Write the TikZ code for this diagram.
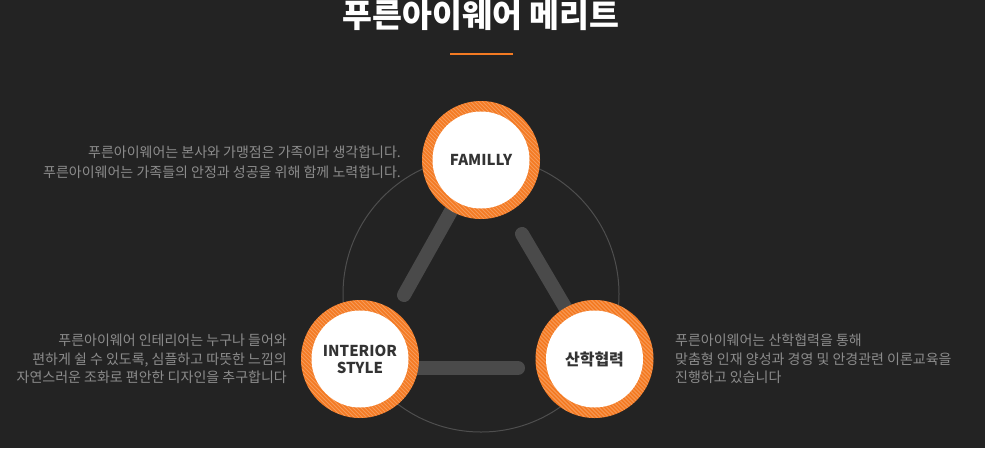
\documentclass[tikz,border=0pt]{standalone}
\usepackage{fontspec}
\setmainfont{Noto Sans CJK KR}
\usetikzlibrary{calc}
\definecolor{bgc}{HTML}{232323}
\definecolor{orng}{HTML}{F47A22}
\definecolor{barc}{HTML}{4A4A4A}
\definecolor{ringline}{HTML}{4E4E4E}
\definecolor{descc}{HTML}{8C8C8C}
\definecolor{lblc}{HTML}{333333}
\tikzset{
  titletext/.style={text=white,font=\fontsize{32.5}{36}\selectfont\bfseries,inner sep=0pt},
  accent/.style={draw=orng,line width=2pt},
  bigring/.style={draw=ringline,line width=1pt},
  barline/.style={draw=barc,line width=14pt,line cap=round},
  stripe/.style={draw=white,draw opacity=0.25,line width=0.8pt},
  innerdisc/.style={circle,fill=white,minimum size=97pt,inner sep=0pt,text=lblc,align=center},
  lbl/.style={font=\fontsize{15}{17}\selectfont\bfseries},
  desc/.style={text=descc,inner sep=0pt},
  desctwo/.style={desc,font=\fontsize{14}{20}\selectfont},
  descthree/.style={desc,font=\fontsize{14}{18.5}\selectfont},
}
\newcommand\mkring[1]{%
  \fill[orng] (#1) circle (59pt);
  \begin{scope}
    \clip (#1) circle (59pt);
    \foreach \t in {-140,-136,...,140}
      \draw[stripe] (#1) ++({\t-75},-75) -- ++(150,150);
  \end{scope}
}
\begin{document}
\begin{tikzpicture}[x=1pt,y=-1pt]
\useasboundingbox (0,0) rectangle (985,448);
\fill[bgc] (0,0) rectangle (985,448);

% title
\node[titletext] (title) at (481,15) {푸른아이웨어 메리트};
\coordinate (accL) at (450,54);
\coordinate (accR) at (513,54);
\draw[accent] (accL) -- (accR);

% centres
\coordinate (cF) at (481,160);
\coordinate (cI) at (360,359);
\coordinate (cS) at (594.5,359);
\coordinate (cBig) at (481,294);

% big thin circle
\draw[bigring] (cBig) circle (138pt);

% bars
\coordinate (b1a) at (455,204);
\coordinate (b1b) at (404,295);
\coordinate (b2a) at (522,234);
\coordinate (b2b) at (572,319);
\coordinate (b3a) at (400,368);
\coordinate (b3b) at (518,368);
\draw[barline] (b1a) -- (b1b);
\draw[barline] (b2a) -- (b2b);
\draw[barline] (b3a) -- (b3b);

% rings
\mkring{cF}
\mkring{cI}
\mkring{cS}

% nodes
\node[innerdisc,lbl] (fam) at (cF) {FAMILLY};
\node[innerdisc,lbl] (int) at (cI) {INTERIOR\\STYLE};
\node[innerdisc,font=\fontsize{16}{18}\selectfont\bfseries] (san) at (cS) {산학협력};

% descriptions
\node[desctwo,anchor=east,align=right] (d1) at (401,162)
  {푸른아이웨어는 본사와 가맹점은 가족이라 생각합니다.\\푸른아이웨어는 가족들의 안정과 성공을 위해 함께 노력합니다.};
\node[descthree,anchor=east,align=right] (d2) at (287,359)
  {푸른아이웨어 인테리어는 누구나 들어와\\편하게 쉴 수 있도록, 심플하고 따뜻한 느낌의\\자연스러운 조화로 편안한 디자인을 추구합니다};
\node[descthree,anchor=west,align=left] (d3) at (675,359)
  {푸른아이웨어는 산학협력을 통해\\맞춤형 인재 양성과 경영 및 안경관련 이론교육을\\진행하고 있습니다};
\end{tikzpicture}
\end{document}
